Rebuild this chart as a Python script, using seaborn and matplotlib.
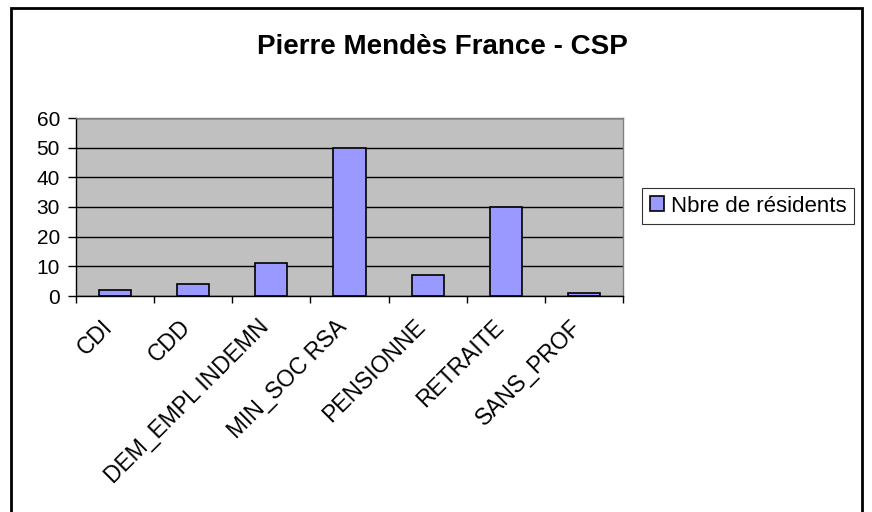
import pandas as pd
import seaborn as sns
import matplotlib.pyplot as plt
import matplotlib.transforms as mtransforms
import numpy as np
from matplotlib.patches import Rectangle

# Data
categories = ["CDI", "CDD", "DEM_EMPL INDEMN", "MIN_SOC RSA", "PENSIONNE", "RETRAITE", "SANS_PROF"]
residents = [2, 4, 11, 50, 7, 30, 1]
series_name = "Nbre de résidents"

df = pd.DataFrame({"csp": categories, "n": residents})

sns.set_theme(style="white")
plt.rcParams['font.family'] = ['Liberation Sans', 'DejaVu Sans']
plt.rcParams['text.color'] = 'black'
plt.rcParams['xtick.color'] = 'black'
plt.rcParams['ytick.color'] = 'black'

fig = plt.figure(figsize=(8.72, 5.12), dpi=100)
ax = fig.add_axes([76 / 872, 1 - 296 / 512, (623 - 76) / 872, (296 - 118) / 512])

sns.barplot(data=df, x="csp", y="n", color="#9999FF", width=0.41,
            edgecolor="black", linewidth=1.2, saturation=1, ax=ax, label=series_name)

ax.set_facecolor("#C0C0C0")
ax.set_ylim(0, 60)
ax.set_xlim(-0.5, len(categories) - 0.5)
ax.set_yticks(range(0, 61, 10))
ax.yaxis.grid(True, color="black", linewidth=1)
ax.set_axisbelow(True)
for s in ax.spines.values():
    s.set_color("#808080")
    s.set_linewidth(1)
ax.spines["left"].set_color("black")
ax.spines["bottom"].set_color("black")

# ticks between categories
ax.set_xticks(np.arange(len(categories) + 1) - 0.5, minor=True)
ax.tick_params(axis="x", which="major", length=0, pad=14, labelcolor="black")
ax.tick_params(axis="x", which="minor", direction="out", length=5, color="black", width=1, bottom=True)
ax.tick_params(axis="y", direction="out", length=5.5, color="black", width=1, left=True,
               labelsize=15, pad=6, labelcolor="black")
ax.set_xticks(range(len(categories)))
ax.set_xticklabels(categories, rotation=45, ha="right", rotation_mode="anchor", fontsize=16.5)
shift = mtransforms.ScaledTranslation(-14 / 100, 0, fig.dpi_scale_trans)
for lab in ax.get_xticklabels():
    lab.set_transform(lab.get_transform() + shift)
ax.set_xlabel("")
ax.set_ylabel("")

leg = ax.legend(loc="center left", bbox_to_anchor=(642 / 872, 1 - 206 / 512),
                bbox_transform=fig.transFigure, frameon=True, fancybox=False,
                edgecolor="black", fontsize=16, handlelength=0.65, handleheight=0.65,
                handletextpad=0.3, borderpad=0.35, borderaxespad=0)
leg.get_frame().set_linewidth(0.8)

fig.text(442 / 872, 1 - 47 / 512, "Pierre Mendès France - CSP", ha="center", va="center",
         fontsize=20, fontweight="bold")

fig.patches.append(Rectangle((11 / 872, -0.05), (862 - 11) / 872, 1.05 - 8 / 512,
                             transform=fig.transFigure, fill=False, edgecolor="black", linewidth=2))

fig.savefig("out.png", dpi=100)
